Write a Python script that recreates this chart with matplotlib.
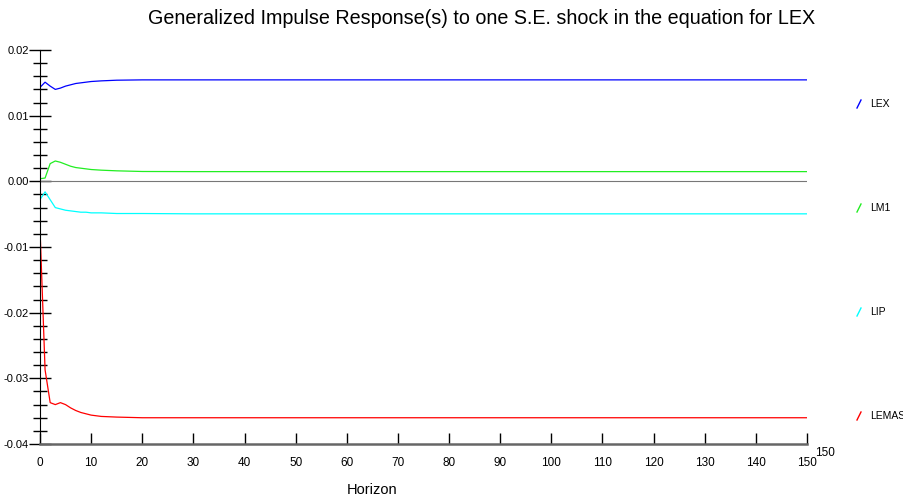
#!/usr/bin/env python3

# Generalized impulse responses to a one S.E. shock in LEX

import matplotlib.pyplot as plt
from matplotlib.lines import Line2D
from matplotlib.ticker import MultipleLocator

plt.rcParams['font.family'] = ['Liberation Sans', 'DejaVu Sans']

horizon = [0, 1, 2, 3, 4, 5, 6, 7, 8, 9, 10, 12, 15, 20, 30, 150]

lex = [0.0143, 0.0151, 0.0145, 0.0140, 0.0142, 0.0145, 0.0147, 0.0149,
       0.0150, 0.0151, 0.0152, 0.0153, 0.0154, 0.01545, 0.01545, 0.01545]
lm1 = [0.0004, 0.0005, 0.0027, 0.0031, 0.0029, 0.0026, 0.0023, 0.0021,
       0.0020, 0.0019, 0.0018, 0.0017, 0.0016, 0.0015, 0.00148, 0.00148]
lip = [-0.0028, -0.0016, -0.0028, -0.0040, -0.0042, -0.0044, -0.0045, -0.0046,
       -0.0047, -0.0047, -0.0048, -0.0048, -0.0049, -0.0049, -0.00495, -0.00495]
lemas = [-0.0070, -0.0287, -0.0337, -0.0340, -0.0337, -0.0340, -0.0345, -0.0349,
         -0.0352, -0.0354, -0.0356, -0.0358, -0.0359, -0.0360, -0.0360, -0.0360]

names = ['LEX', 'LM1', 'LIP', 'LEMAS']
colors = ['#0000ff', '#22ee22', '#00ffff', '#ff0000']
series = [lex, lm1, lip, lemas]

fig = plt.figure(figsize=(9.04, 4.99), dpi=100)
ax = fig.add_axes([0.0442, 0.1102, 0.8485, 0.7896])

ax.axhline(0, color='#777777', lw=0.8)
for vals, c in zip(series, colors):
    ax.plot(horizon, vals, color=c, lw=0.9)

ax.set_xlim(0, 150)
ax.set_ylim(-0.04, 0.02)
ax.xaxis.set_major_locator(MultipleLocator(10))
ax.yaxis.set_major_locator(MultipleLocator(0.01))
ax.yaxis.set_minor_locator(MultipleLocator(0.002))
ax.yaxis.set_major_formatter(lambda v, p: f"{v:.2f}")

for s in ['top', 'right']:
    ax.spines[s].set_visible(False)
ax.spines['left'].set_color('black')
ax.spines['bottom'].set_color('#666666')
ax.spines['bottom'].set_linewidth(1.8)

ax.tick_params(axis='y', which='major', direction='inout', length=16, width=1,
               labelsize=8, pad=0)
ax.tick_params(axis='y', which='minor', direction='inout', length=10, width=1)
ax.tick_params(axis='x', which='major', direction='in', length=8, width=1,
               labelsize=8.5, pad=9)

ax.text(151.5, -0.0405, '150', fontsize=8.5, va='top', ha='left')

fig.text(0.533, 0.963, 'Generalized Impulse Response(s) to one S.E. shock in the equation for LEX',
         ha='center', va='center', fontsize=14.2)
fig.text(0.412, 0.018, 'Horizon', ha='center', va='center', fontsize=10.5)

# legend on the right: small slashes with names
leg_y = [104, 208, 312, 416]
for name, c, py in zip(names, colors, leg_y):
    yf = 1 - py / 499
    fig.add_artist(Line2D([857 / 904, 861 / 904], [yf - 4 / 499, yf + 4 / 499],
                          color=c, lw=1.0, transform=fig.transFigure))
    fig.text(870 / 904, yf, name, fontsize=7.5, va='center', ha='left')

fig.savefig('out.png', dpi=100)
